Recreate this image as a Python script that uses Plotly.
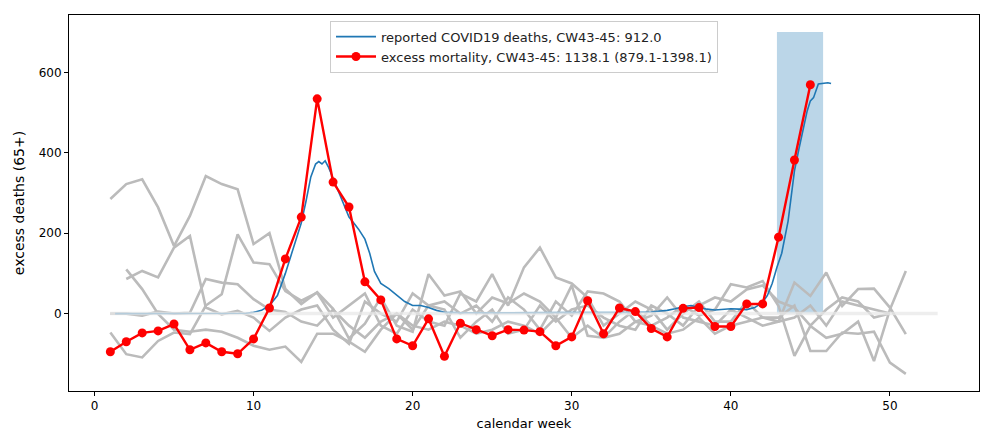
import plotly.graph_objects as go

# ---------------- data ----------------
weeks = list(range(1, 52))

# previous seasons (grey lines), calendar weeks 1..51
season_a = [285, 322, 334, 264, 168, 243, 342, 322, 309, 173,
            200, 61, 24, 53, 12, -62, -25, 40, -30, -45,
            98, 45, 55, 0, 40, 25, 50, 30, -10, 70,
            -55, -60, -20, 10, -30, -10, 20, -5, 10, 73,
            65, 81, 19, -105, -31, -60, -50, -20, -118, 10,
            106]
season_b = [None, 86, 106, 90, 164, 193, 15, -2, 7, -10,
            -43, -10, 10, 20, -40, -75, 30, 0, -20, 50,
            20, 30, 0, 20, -20, 40, 10, -40, 30, -5,
            55, 50, 30, -20, -5, 40, -10, -20, -30, 10,
            -10, -30, -20, 77, 44, 102, 19, 61, 62, 15,
            -51]
season_c = [None, 110, 61, -1, -40, -45, -40, -45, -60, -80,
            -90, -82, -120, -50, -50, -70, -95, -40, 0, -30,
            -40, -20, -30, -50, -40, -20, -30, -50, -10, -60,
            -30, -60, -50, -20, -30, -50, -40, -10, -50, -30,
            -20, -10, -20, -10, 20, -30, 30, 20, 10, 0,
            None]
season_d = [-47, -101, -109, -68, -47, -51, 20, 48, 197, 127,
            123, 56, 32, 52, -10, 20, 50, -30, -50, 10,
            -20, -30, 50, 30, 98, 20, 115, 164, 90, 75,
            40, -30, 0, 30, 10, -40, 0, 30, -20, -20,
            30, -10, -10, 20, -93, -93, -47, -50, -45, -122,
            -150]
season_e = [0, 0, -5, 5, 0, 2, 86, 77, 73, 36,
            10, 4, -20, -30, 10, -30, -60, -20, 0, -40,
            20, 10, -60, -20, 10, -50, -40, 20, -20, 10,
            20, -10, -30, -40, 20, 0, -30, 20, 40, 30,
            60, 70, 30, 15, -30, 10, 40, 30, -10, 0,
            None]
past_seasons = [season_a, season_b, season_c, season_d, season_e]

# baseline (zero line) extent
baseline_weeks = [1, 53]
baseline_values = [0, 0]

# reported COVID19 deaths
covid_weeks = [1.3, 2, 3, 4, 5, 6, 7, 8, 9,
               9.5, 10, 10.5, 11, 11.5, 12, 12.5, 13,
               13.3, 13.6, 13.9, 14.1, 14.3, 14.5, 14.7, 14.9,
               15.1, 15.4, 15.7, 16, 16.3, 16.6, 17, 17.3, 17.6, 18,
               18.5, 19, 19.5, 20, 20.5, 21, 21.5, 22, 23, 25,
               28, 31, 34, 35, 36, 36.5, 37, 37.5, 38, 38.5,
               39, 39.5, 40, 40.5, 41, 41.5, 42, 42.3, 42.6, 42.9,
               43.2, 43.6, 44, 44.3, 44.6, 44.8, 45, 45.2, 45.5, 45.8,
               46.1, 46.3]
covid_deaths = [0, 0, 0, 0, 0, 0, 0, 0, 0,
                1, 3, 8, 20, 45, 100, 160, 225,
                280, 340, 372, 378, 372, 380, 365, 345,
                325, 295, 265, 240, 225, 210, 185, 150, 105, 75,
                62, 45, 30, 20, 20, 15, 8, 3, 2, 2,
                2, 2, 3, 4, 8, 12, 17, 20, 15, 11,
                9, 10, 12, 11, 10, 15, 28, 45, 75, 115,
                150, 230, 355, 413, 471, 504, 529, 537, 571, 572,
                574, 572]

# excess mortality 2020
excess_weeks = list(range(1, 46))
excess_values = [-95, -70, -48, -43, -26, -90, -73, -95, -100, -63,
                 14, 136, 240, 534, 327, 265, 79, 34, -63, -80,
                 -13, -106, -24, -40, -55, -40, -41, -45, -80, -58,
                 32, -50, 14, 5, -37, -58, 13, 15, -32, -32,
                 24, 24, 190, 382, 569]

# highlighted period CW43-45
highlight_start = 42.9
highlight_end = 45.8
highlight_height = 700

legend_covid = "reported COVID19 deaths, CW43-45: 912.0"
legend_excess = "excess mortality, CW43-45: 1138.1 (879.1-1398.1)"

# ---------------- figure ----------------
FONT = "DejaVu Sans"
fig = go.Figure()

fig.add_shape(type="rect", xref="x", yref="y",
              x0=highlight_start, x1=highlight_end, y0=0, y1=highlight_height,
              fillcolor="rgba(31,119,180,0.3)", line_width=0, layer="below")

for s in past_seasons:
    fig.add_trace(go.Scatter(x=weeks, y=s, mode="lines",
                             line=dict(color="#bbbbbb", width=2.6),
                             showlegend=False, hoverinfo="skip",
                             connectgaps=False))

fig.add_trace(go.Scatter(x=covid_weeks, y=covid_deaths, mode="lines",
                         line=dict(color="#1f77b4", width=1.6),
                         name=legend_covid))

fig.add_trace(go.Scatter(x=baseline_weeks, y=baseline_values, mode="lines",
                         line=dict(color="rgba(232,232,232,0.75)", width=3.5),
                         showlegend=False, hoverinfo="skip"))

fig.add_trace(go.Scatter(x=excess_weeks, y=excess_values, mode="lines+markers",
                         line=dict(color="#ff0000", width=2.4),
                         marker=dict(color="#ff0000", size=9),
                         name=legend_excess))

fig.update_layout(
    width=984, height=440,
    margin=dict(l=69, r=5, t=15, b=49),
    paper_bgcolor="white", plot_bgcolor="white",
    font=dict(family=FONT, size=12, color="#000000"),
    legend=dict(x=0.5, xanchor="center", y=0.985, yanchor="top",
                bgcolor="rgba(255,255,255,0.85)", bordercolor="#cccccc",
                borderwidth=1, font=dict(family=FONT, size=13, color="#222222"),
                tracegroupgap=0, itemwidth=40),
    showlegend=True,
)
fig.update_xaxes(range=[-1.6, 55.6], tickmode="array", tickvals=[0, 10, 20, 30, 40, 50],
                 ticks="outside", ticklen=4, tickcolor="black",
                 showline=True, linecolor="black", linewidth=1, mirror=True,
                 showgrid=False, zeroline=False,
                 title=dict(text="calendar week", font=dict(size=13), standoff=6))
fig.update_yaxes(range=[-192.5, 742.5], tickmode="array", tickvals=[0, 200, 400, 600],
                 ticks="outside", ticklen=4, tickcolor="black",
                 showline=True, linecolor="black", linewidth=1, mirror=True,
                 showgrid=False, zeroline=False,
                 title=dict(text="excess deaths (65+)", font=dict(size=14), standoff=10))

fig.write_html("out.html")
